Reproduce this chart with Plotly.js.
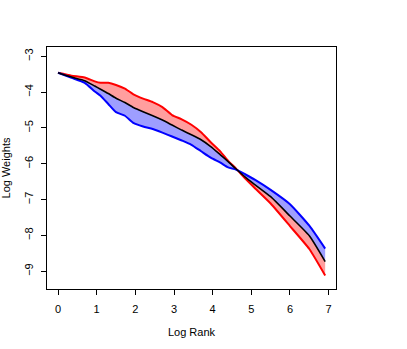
<!DOCTYPE html>
<html>
<head>
<meta charset="utf-8">
<script src="https://cdn.plot.ly/plotly-3.0.1.min.js"></script>
<style>
  html, body { margin: 0; padding: 0; background: #fff; }
  #chart { width: 407px; height: 349px; }
</style>
</head>
<body>
<div id="chart"></div>
<script>
// log rank positions where the curves were read
var logRank = [0, 0.35, 0.69, 0.95, 1.1, 1.3, 1.5, 1.73, 1.95, 2.2, 2.45, 2.7, 2.95,
               3.2, 3.45, 3.7, 3.95, 4.2, 4.4, 4.6, 4.85, 5.1, 5.5, 6.0, 6.5, 6.91];

// central (black) curve
var meanWeights = [-3.46, -3.58, -3.68, -3.83, -3.92, -4.04, -4.17, -4.29, -4.43, -4.55, -4.66, -4.78, -4.92,
                   -5.06, -5.19, -5.33, -5.52, -5.75, -5.94, -6.14, -6.38, -6.59, -6.92, -7.46, -8.01, -8.73];

// outer edge of the red fan
var redWeights = [-3.46, -3.54, -3.59, -3.70, -3.74, -3.74, -3.80, -3.90, -4.06, -4.18, -4.28, -4.42, -4.64,
                  -4.76, -4.91, -5.12, -5.40, -5.66, -5.92, -6.13, -6.42, -6.69, -7.11, -7.74, -8.38, -9.12];

// outer edge of the blue fan
var blueWeights = [-3.46, -3.60, -3.74, -3.98, -4.10, -4.33, -4.56, -4.66, -4.86, -4.96, -5.03, -5.13, -5.24,
                   -5.35, -5.47, -5.65, -5.83, -5.97, -6.10, -6.16, -6.30, -6.45, -6.73, -7.13, -7.73, -8.37];

var xTicks = [0, 1, 2, 3, 4, 5, 6, 7];
var yTicks = [-9, -8, -7, -6, -5, -4, -3];

var font = {family: 'Liberation Sans, Arial, sans-serif', size: 11, color: '#000'};
var curve = {shape: 'spline', smoothing: 0.5};

var data = [
  {x: logRank, y: meanWeights, mode: 'lines', line: Object.assign({width: 0}, curve), hoverinfo: 'skip'},
  {x: logRank, y: redWeights, mode: 'lines', fill: 'tonexty',
   fillcolor: 'rgba(255,0,0,0.38)', line: Object.assign({color: '#ff0000', width: 2}, curve)},
  {x: logRank, y: meanWeights, mode: 'lines', line: Object.assign({width: 0}, curve), hoverinfo: 'skip'},
  {x: logRank, y: blueWeights, mode: 'lines', fill: 'tonexty',
   fillcolor: 'rgba(0,0,255,0.38)', line: Object.assign({color: '#0000ff', width: 2}, curve)},
  {x: logRank, y: meanWeights, mode: 'lines', line: Object.assign({color: '#000', width: 1.6}, curve)}
];

var layout = {
  width: 407,
  height: 349,
  showlegend: false,
  paper_bgcolor: '#fff',
  plot_bgcolor: '#fff',
  margin: {l: 47, r: 71, t: 47, b: 60, pad: 0},
  font: font,
  xaxis: {
    range: [-0.285, 7.19],
    tickvals: xTicks,
    ticks: 'outside', ticklen: 5, tickcolor: '#000',
    ticklabelstandoff: 5,
    showline: true, mirror: true, linecolor: '#000', linewidth: 1,
    showgrid: false, zeroline: false,
    title: {text: 'Log Rank', font: font, standoff: 14}
  },
  yaxis: {
    range: [-9.497, -2.74],
    tickvals: yTicks,
    tickangle: -90,
    ticks: 'outside', ticklen: 5, tickcolor: '#000',
    ticklabelstandoff: 4,
    showline: true, mirror: true, linecolor: '#000', linewidth: 1,
    showgrid: false, zeroline: false,
    title: {text: 'Log Weights', font: font, standoff: 14}
  }
};

Plotly.newPlot('chart', data, layout, {displayModeBar: false, staticPlot: true});
</script>
</body>
</html>
